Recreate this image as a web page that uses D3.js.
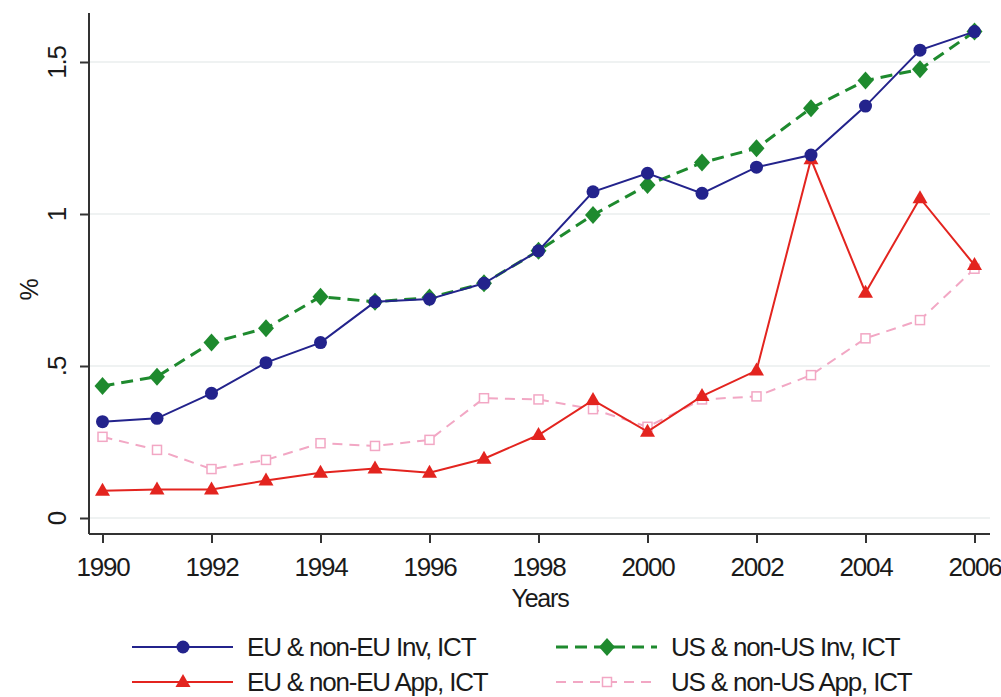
<!DOCTYPE html>
<html><head><meta charset="utf-8">
<script src="https://cdn.jsdelivr.net/npm/d3@7"></script>
<style>body{margin:0;background:#fff}svg{display:block}text{font-family:"Liberation Sans",Arial,sans-serif;fill:#1a1a1a;letter-spacing:-1.2px}</style>
</head><body>
<script>
const years = [1990,1991,1992,1993,1994,1995,1996,1997,1998,1999,2000,2001,2002,2003,2004,2005,2006];
const euInv = [0.317,0.328,0.41,0.511,0.577,0.711,0.72,0.772,0.879,1.073,1.134,1.068,1.154,1.194,1.355,1.539,1.6];
const usInv = [0.434,0.465,0.577,0.624,0.728,0.711,0.725,0.772,0.879,0.997,1.095,1.169,1.216,1.348,1.439,1.476,1.6];
const euApp = [0.09,0.094,0.094,0.123,0.149,0.163,0.149,0.195,0.273,0.388,0.284,0.401,0.485,1.18,0.741,1.052,0.832];
const usApp = [0.267,0.224,0.161,0.191,0.246,0.237,0.257,0.394,0.39,0.358,0.3,0.39,0.4,0.47,0.591,0.651,0.82];
const xTicks = [1990,1992,1994,1996,1998,2000,2002,2004,2006];
const yTicks = [0,0.5,1,1.5];
const yTickLabels = ["0",".5","1","1.5"];
const seriesNames = ["EU & non-EU Inv, ICT","US & non-US Inv, ICT","EU & non-EU App, ICT","US & non-US App, ICT"];

const W=1001,H=697;
const svg=d3.select("body").append("svg").attr("width",W).attr("height",H);
const x=d3.scaleLinear().domain([1990,2006]).range([102.5,974.5]);
const y=d3.scaleLinear().domain([0,1.5]).range([518,62]);
const axX=89, axY=534, plotR=990, plotT=13;
const FS=26;

// gridlines
svg.append("g").selectAll("line").data(yTicks).join("line")
  .attr("x1",axX).attr("x2",plotR).attr("y1",d=>y(d)).attr("y2",d=>y(d))
  .attr("stroke","#eaeeee").attr("stroke-width",1.5);

// y axis
const ya=svg.append("g").attr("transform",`translate(${axX},0)`)
  .call(d3.axisLeft(y).tickValues(yTicks).tickFormat((d,i)=>yTickLabels[i]).tickSize(9).tickPadding(0));
ya.select(".domain").remove();
ya.append("line").attr("y1",plotT).attr("y2",axY).attr("stroke","#333").attr("stroke-width",2);
ya.selectAll(".tick line").attr("stroke","#333").attr("stroke-width",2);
ya.selectAll(".tick text").attr("font-size",FS).attr("fill","#1a1a1a").attr("text-anchor","middle")
  .attr("transform","translate(-32,0) rotate(-90)").attr("x",0).attr("dy","0.35em");

// x axis
const xa=svg.append("g").attr("transform",`translate(0,${axY})`)
  .call(d3.axisBottom(x).tickValues(xTicks).tickFormat(d3.format("d")).tickSize(9).tickPadding(15));
xa.select(".domain").remove();
xa.append("line").attr("x1",axX).attr("x2",plotR).attr("stroke","#333").attr("stroke-width",2);
xa.selectAll(".tick line").attr("stroke","#333").attr("stroke-width",2);
xa.selectAll(".tick text").attr("font-size",FS).attr("fill","#1a1a1a");

svg.append("text").attr("x",540).attr("y",607).attr("text-anchor","middle").attr("font-size",FS-1).text("Years");
svg.append("text").attr("transform","translate(38,290) rotate(-90)").attr("text-anchor","middle").attr("font-size",FS-1).text("%");

const series=[
 {vals:euInv,color:"#23238c",dash:null,w:2,marker:"circle"},
 {vals:usInv,color:"#1e8a2e",dash:"12,7",w:3,marker:"diamond"},
 {vals:euApp,color:"#e3241f",dash:null,w:2,marker:"triangle"},
 {vals:usApp,color:"#f2a7c4",dash:"10,7",w:2,marker:"square"}
];
const line=d3.line().x((d,i)=>x(years[i])).y(d=>y(d));
function drawMarker(g,type,color,cx,cy){
  if(type==="circle") g.append("circle").attr("cx",cx).attr("cy",cy).attr("r",6.5).attr("fill",color);
  else if(type==="diamond") g.append("path").attr("d",`M${cx},${cy-9}L${cx+8},${cy}L${cx},${cy+9}L${cx-8},${cy}Z`).attr("fill",color);
  else if(type==="triangle") g.append("path").attr("d",`M${cx},${cy-8}L${cx+7.5},${cy+5}L${cx-7.5},${cy+5}Z`).attr("fill",color);
  else g.append("rect").attr("x",cx-4.5).attr("y",cy-4.5).attr("width",9).attr("height",9).attr("fill","#fff").attr("stroke",color).attr("stroke-width",1.5);
}
// draw order: pink, red, green, blue
[3,2,1,0].forEach(k=>{
  const s=series[k];
  const g=svg.append("g");
  g.append("path").datum(s.vals).attr("d",line).attr("fill","none").attr("stroke",s.color)
   .attr("stroke-width",s.w).attr("stroke-dasharray",s.dash);
  s.vals.forEach((v,i)=>drawMarker(g,s.marker,s.color,x(years[i]),y(v)));
});

// legend
const legPos=[[132,647],[556,647],[132,682],[556,682]];
series.forEach((s,k)=>{
  const [lx,ly]=legPos[k];
  const g=svg.append("g");
  g.append("line").attr("x1",lx).attr("x2",lx+101).attr("y1",ly).attr("y2",ly).attr("stroke",s.color)
   .attr("stroke-width",s.w).attr("stroke-dasharray",s.dash);
  drawMarker(g,s.marker,s.color,lx+51,ly);
  g.append("text").attr("x",lx+115).attr("y",ly).attr("dy","0.36em").attr("font-size",FS).text(seriesNames[k]);
});
</script>
</body></html>
